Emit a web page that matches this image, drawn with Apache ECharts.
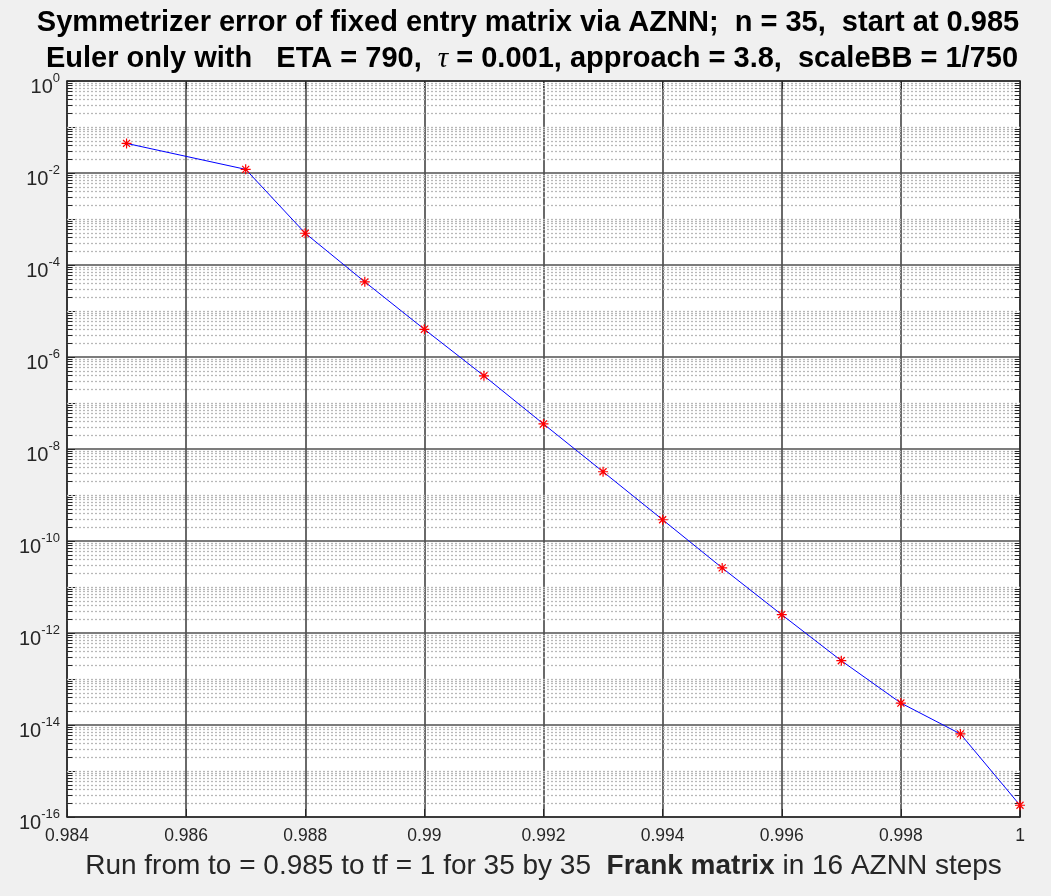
<!DOCTYPE html>
<html>
<head>
<meta charset="utf-8">
<script src="https://cdn.jsdelivr.net/npm/echarts@6.0.0/dist/echarts.min.js"></script>
<style>
html,body{margin:0;padding:0;background:#f0f0f0;}
#chart{width:1051px;height:896px;}
</style>
</head>
<body>
<div id="chart"></div>
<script>
// ---- data ----
const xValues = [0.985, 0.987, 0.988, 0.989, 0.990, 0.991, 0.992, 0.993, 0.994, 0.995, 0.996, 0.997, 0.998, 0.999, 1.000];
const errValues = [4.4e-2, 1.2e-2, 4.9e-4, 4.3e-5, 4.0e-6, 3.9e-7, 3.5e-8, 3.2e-9, 2.9e-10, 2.6e-11, 2.5e-12, 2.5e-13, 3.0e-14, 6.4e-15, 1.8e-16];
const xTickLabels = ['0.984', '0.986', '0.988', '0.99', '0.992', '0.994', '0.996', '0.998', '1'];
const yTickExponents = [-16, -14, -12, -10, -8, -6, -4, -2, 0];
const titleLine1 = 'Symmetrizer error of fixed entry matrix via AZNN;  n = 35,  start at 0.985';
const titleLine2a = 'Euler only with   ETA = 790,  ';
const titleLine2tau = 'τ';
const titleLine2b = ' = 0.001, approach = 3.8,  scaleBB = 1/750';
const xNameA = 'Run from to = 0.985 to tf = 1 for 35 by 35  ';
const xNameBold = 'Frank matrix';
const xNameB = ' in 16 AZNN steps';

const X_MIN = 0.984, X_MAX = 1, X_INT = 0.002;
const Y_MIN = 1e-16, Y_MAX = 1;
const FONT = '"Liberation Sans", Arial, Helvetica, sans-serif';
const DARK = '#262626';
const MAJOR = '#505050';

// minor grid / minor tick positions derived from the log axis structure (styling only)
const minorGrid = [];
const minorTicks = [];
for (let d = -16; d < 0; d++) {
  for (let k = 1; k <= 9; k++) {
    if (k === 1 && d % 2 === 0) continue;
    const v = k * Math.pow(10, d);
    minorGrid.push([{ coord: [X_MIN, v] }, { coord: [X_MAX, v] }]);
    if (k !== 1) {
      minorTicks.push([{ coord: [X_MIN, v] }, { coord: [X_MIN + 0.00009, v] }]);
      minorTicks.push([{ coord: [X_MAX - 0.00009, v] }, { coord: [X_MAX, v] }]);
    }
  }
}

const asterisk = 'path://M8.8,0 L11.2,0 L11.2,20 L8.8,20 Z M0,8.8 L20,8.8 L20,11.2 L0,11.2 Z M2.1,3.8 L3.8,2.1 L17.9,16.2 L16.2,17.9 Z M16.2,2.1 L17.9,3.8 L3.8,17.9 L2.1,16.2 Z';

const chart = echarts.init(document.getElementById('chart'), null, { renderer: 'canvas', width: 1051, height: 896 });

function markLineSeries(data, style, z) {
  return {
    type: 'line', xAxisIndex: 0, yAxisIndex: 1, data: [], z: z, silent: true,
    markLine: {
      silent: true, animation: false, symbol: ['none', 'none'], label: { show: false },
      lineStyle: style, emphasis: { disabled: true }, data: data
    }
  };
}

const option = {
  backgroundColor: '#f0f0f0',
  animation: false,
  grid: { left: 67, right: 31, top: 81, bottom: 79, show: true, backgroundColor: '#ffffff', borderWidth: 0 },
  xAxis: [
    {
      type: 'value', min: X_MIN, max: X_MAX, interval: X_INT, position: 'bottom',
      axisLine: { show: true, onZero: false, lineStyle: { color: DARK, width: 1.5 } },
      axisTick: { show: true, inside: true, length: 8, lineStyle: { color: DARK } },
      axisLabel: {
        color: DARK, fontSize: 17.5, fontFamily: FONT, margin: 10,
        formatter: function (v) {
          const i = Math.round((v - X_MIN) / X_INT);
          return xTickLabels[i] !== undefined ? xTickLabels[i] : '';
        }
      },
      splitLine: { show: true, lineStyle: { color: MAJOR, width: 1.7 } },
      name: '{r|' + xNameA + '}{bd|' + xNameBold + '}{r|' + xNameB + '}',
      nameLocation: 'middle', nameGap: 35,
      nameTextStyle: {
        rich: {
          r: { fontSize: 28, fontFamily: FONT, color: DARK },
          bd: { fontSize: 28, fontFamily: FONT, color: DARK, fontWeight: 'bold' }
        }
      }
    },
    {
      type: 'value', min: X_MIN, max: X_MAX, interval: X_INT, position: 'top',
      axisLine: { show: true, onZero: false, lineStyle: { color: DARK, width: 1.5 } },
      axisTick: { show: true, inside: true, length: 8, lineStyle: { color: DARK } },
      axisLabel: { show: false },
      splitLine: { show: false }
    }
  ],
  yAxis: [
    {
      // decade (exponent) axis carrying the 10^n tick labels and major grid
      type: 'value', min: yTickExponents[0], max: yTickExponents[yTickExponents.length - 1], interval: 2,
      position: 'left',
      axisLine: { show: true, onZero: false, lineStyle: { color: DARK, width: 1.5 } },
      axisTick: { show: true, inside: true, length: 8, lineStyle: { color: DARK } },
      minorTick: { show: true, splitNumber: 2, length: 8, lineStyle: { color: DARK } },
      axisLabel: {
        color: DARK, fontFamily: FONT, margin: 7, padding: [7, 0, 0, 0],
        formatter: function (e) {
          return yTickExponents.indexOf(e) < 0 ? '' : '{b|10}{s|' + e + '}';
        },
        rich: {
          b: { fontSize: 20, fontFamily: FONT, color: DARK, verticalAlign: 'bottom', padding: [6, 0, 0, 0] },
          s: { fontSize: 13, fontFamily: FONT, color: DARK, verticalAlign: 'top' }
        }
      },
      splitLine: { show: true, lineStyle: { color: MAJOR, width: 1.7 } }
    },
    {
      // log axis mapping the data
      type: 'log', logBase: 10, min: Y_MIN, max: Y_MAX, position: 'right',
      axisLine: { show: true, onZero: false, lineStyle: { color: DARK, width: 1.5 } },
      axisTick: { show: false },
      axisLabel: { show: false },
      splitLine: { show: false }
    }
  ],
  graphic: [
    {
      type: 'text', z: 10,
      style: { text: titleLine1, x: 528, y: 23, align: 'center', verticalAlign: 'middle',
        font: 'bold 29px ' + FONT, fill: '#000' }
    },
    {
      type: 'text', z: 10,
      style: {
        text: '{b|' + titleLine2a + '}{t|' + titleLine2tau + '}{b|' + titleLine2b + '}',
        x: 532, y: 59, align: 'center', verticalAlign: 'middle',
        rich: {
          b: { font: 'bold 29px ' + FONT, fill: '#000' },
          t: { font: 'italic 29px "Liberation Serif", "DejaVu Serif", serif', fill: '#000' }
        }
      }
    }
  ],
  series: [
    markLineSeries(minorGrid, { color: '#b8b8b8', width: 1.3, type: [2, 2] }, 1),
    markLineSeries(minorTicks, { color: DARK, width: 1, type: 'solid' }, 3),
    {
      type: 'line', xAxisIndex: 0, yAxisIndex: 1, z: 5,
      data: xValues.map((x, i) => [x, errValues[i]]),
      lineStyle: { color: '#0000ff', width: 1 },
      itemStyle: { color: '#ff0000' },
      symbol: asterisk, symbolSize: 10, showSymbol: true,
      emphasis: { disabled: true }
    }
  ]
};

chart.setOption(option);
</script>
</body>
</html>
